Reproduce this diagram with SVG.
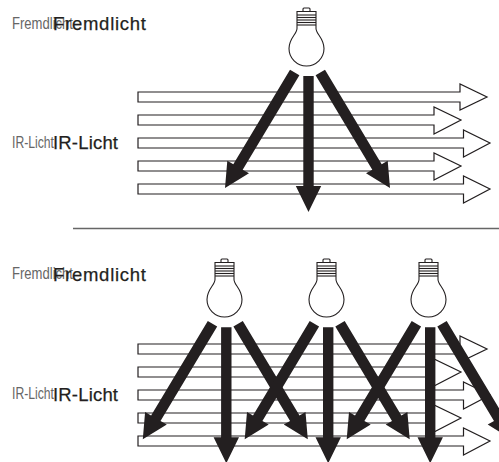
<svg xmlns="http://www.w3.org/2000/svg" width="499" height="462" viewBox="0 0 499 462">
<style>
.beam{fill:#fff;stroke:#231f20;stroke-width:1.2}
.bulb path,.bulb rect,.bulb line{fill:#fff;stroke:#231f20;stroke-width:1.1}
.ray{fill:#231f20}
.s{font-family:"Liberation Sans",Arial,sans-serif;fill:#666;font-size:17px}
.b{font-family:"Liberation Sans",Arial,sans-serif;fill:#231f20;font-size:18.500px;stroke:#231f20;stroke-width:.25}
</style>
<defs>
<g id="bulbShape" class="bulb">
<path d="M-3.500,11.500V9Q-3.500,8 -2.500,8H2.500Q3.500,8 3.500,9V11.500"/>
<path d="M-9.500,11.500H9.500V28.500C9.500,34 17.500,38 17.500,48.500A17.500,17.500 0 0 1 -17.500,48.500C-17.500,38 -9.500,34 -9.500,28.500Z"/>
<line x1="-9.500" y1="15" x2="9.500" y2="15"/><line x1="-9.500" y1="17.500" x2="9.500" y2="17.500"/><line x1="-9.500" y1="20" x2="9.500" y2="20"/><line x1="-9.500" y1="22.500" x2="9.500" y2="22.500"/><line x1="-9.500" y1="25" x2="9.500" y2="25"/>
</g>
<polygon id="down" class="ray" points="-5.200,0 5.200,0 5.200,110 12.700,110 0,136 -12.700,110 -5.200,110"/>
<polygon id="dr" class="ray" points="-4.700,2.700 4.700,-2.800 61.400,91.700 67.400,88.200 69.700,115.500 45.700,100.800 52,97.300"/>
<polygon id="dl" class="ray" points="4.700,2.700 -4.700,-2.800 -61.400,91.700 -67.400,88.200 -69.700,115.500 -45.700,100.800 -52,97.300"/>
<path id="b1" class="beam" d="M138,92H460V84L487,97L460,110V102H138Z"/>
<path id="b2" class="beam" d="M138,115H434V107L461,120L434,134V125H138Z"/>
<path id="b3" class="beam" d="M138,138H463.500V130L490,143L463.500,157V148H138Z"/>
<path id="b4" class="beam" d="M138,161H434V153L461,166L434,180V171H138Z"/>
<path id="b5" class="beam" d="M138,184H463.500V176L490,189L463.500,203V194H138Z"/>
</defs>
<g id="connectors">
<g id="beams-top"><use href="#b1"/><use href="#b2"/><use href="#b3"/><use href="#b4"/><use href="#b5"/></g>
<g id="rays-top"><use href="#down" x="308.500" y="76"/><use href="#dr" x="320.300" y="72.500"/><use href="#dl" x="294.700" y="72.500"/></g>
<line x1="73" y1="228.500" x2="499" y2="228.500" stroke="#666" stroke-width="1.500"/>
<g id="beams-bottom" transform="translate(0,252)"><use href="#b1"/><use href="#b2"/><use href="#b3"/><use href="#b4"/><use href="#b5"/></g>
<g id="rays-bottom" transform="translate(0,251.300)">
<use href="#down" x="226.300" y="76"/><use href="#dr" x="238.100" y="72.500"/><use href="#dl" x="212.500" y="72.500"/>
<use href="#down" x="328.200" y="76"/><use href="#dr" x="340" y="72.500"/><use href="#dl" x="314.400" y="72.500"/>
<use href="#down" x="430.200" y="76"/><use href="#dr" x="442" y="72.500"/><use href="#dl" x="416.400" y="72.500"/>
</g>
</g>
<g id="bulb-top"><use href="#bulbShape" x="306.500" y="0"/></g>
<g id="bulb-1"><use href="#bulbShape" x="224.500" y="251"/></g>
<g id="bulb-2"><use href="#bulbShape" x="326.500" y="251"/></g>
<g id="bulb-3"><use href="#bulbShape" x="428.500" y="251"/></g>
<g id="labels">
<text class="s" x="12" y="29" textLength="61" lengthAdjust="spacingAndGlyphs">Fremdlicht</text>
<text class="b" x="53" y="29.500" textLength="93" lengthAdjust="spacing">Fremdlicht</text>
<text class="s" x="12" y="148" textLength="42" lengthAdjust="spacingAndGlyphs">IR-Licht</text>
<text class="b" x="53" y="149" textLength="65" lengthAdjust="spacing">IR-Licht</text>
<text class="s" x="12" y="279" textLength="61" lengthAdjust="spacingAndGlyphs">Fremdlicht</text>
<text class="b" x="53" y="281" textLength="93" lengthAdjust="spacing">Fremdlicht</text>
<text class="s" x="12" y="399" textLength="42" lengthAdjust="spacingAndGlyphs">IR-Licht</text>
<text class="b" x="53" y="401" textLength="65" lengthAdjust="spacing">IR-Licht</text>
</g>
</svg>
